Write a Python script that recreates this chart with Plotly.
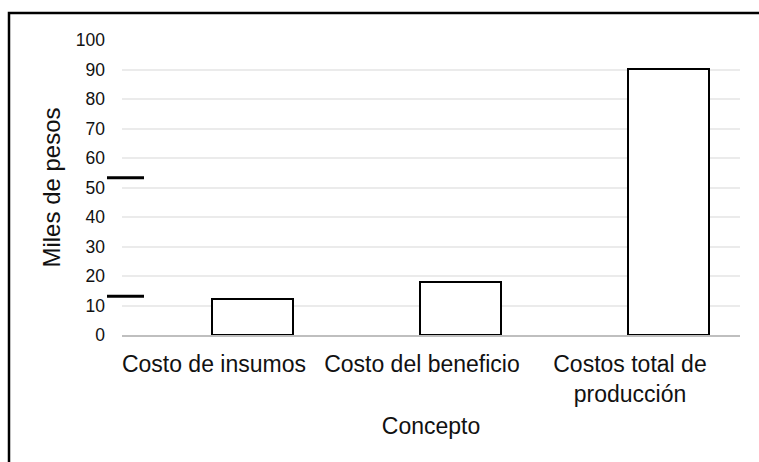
import plotly.graph_objects as go

# Categorías y valores (miles de pesos)
conceptos = ["Costo de insumos", "Costo del beneficio", "Costos total de<br>producción"]
valores = [12.2, 17.8, 90.3]
y_ticks = [0, 10, 20, 30, 40, 50, 60, 70, 80, 90, 100]
marcas = [53.3, 13.1]

W, H = 759, 462
L, R, T, B = 122, 19, 40, 127
pw, ph = W - L - R, H - T - B


def px_x(p):
    return (p - L) / pw


def px_y(p):
    return (H - B - p) / ph


fig = go.Figure(
    go.Bar(
        x=conceptos,
        y=valores,
        width=0.39,
        offset=-0.008,
        marker=dict(color="white", line=dict(color="black", width=2)),
        hoverinfo="x+y",
    )
)

shapes = [
    # marco exterior
    dict(type="rect", xref="paper", yref="paper",
         x0=px_x(9), x1=px_x(900), y0=px_y(700), y1=px_y(13),
         line=dict(color="black", width=2.5), fillcolor="rgba(0,0,0,0)", layer="above"),
]
for m in marcas:
    shapes.append(dict(type="line", xref="paper", yref="y",
                       x0=px_x(107), x1=px_x(144), y0=m, y1=m,
                       line=dict(color="black", width=3)))

fig.update_layout(
    width=W, height=H,
    margin=dict(l=L, r=R, t=T, b=B, autoexpand=False),
    paper_bgcolor="white", plot_bgcolor="white",
    showlegend=False,
    font=dict(family="Liberation Sans, Arial, sans-serif", color="#000"),
    shapes=shapes,
    bargap=0,
)

fig.update_xaxes(
    type="category",
    range=[-0.442, 2.529],
    showgrid=False,
    showline=True, linecolor="#bfbfbf", linewidth=2,
    ticks="", tickfont=dict(size=23, color="#111"),
    ticklabelstandoff=7,
    title=dict(text="Concepto", font=dict(size=23, color="#111"), standoff=12),
    automargin=False,
)

fig.update_yaxes(
    range=[0, 100],
    tickvals=y_ticks,
    showgrid=True, gridcolor="#ebebeb", gridwidth=1.5,
    zeroline=False, showline=False,
    ticks="", tickfont=dict(size=17.5, color="#111"),
    ticklabelstandoff=16,
    title=dict(text="Miles de pesos", font=dict(size=24, color="#111"), standoff=8),
    automargin=False,
)

fig.write_html("out.html")
